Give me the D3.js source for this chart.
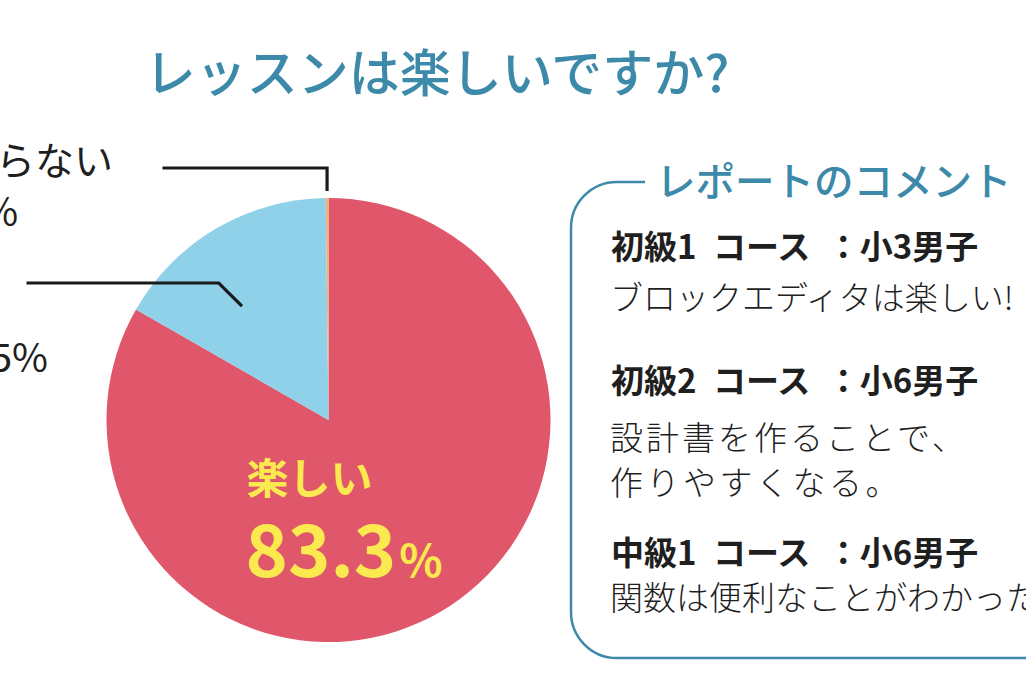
<!DOCTYPE html>
<html>
<head>
<meta charset="utf-8">
<script src="https://cdn.jsdelivr.net/npm/d3@7"></script>
<style>
  html, body { margin: 0; padding: 0; background: #fff; overflow: hidden; }
  svg { display: block; font-family: "Noto Sans CJK JP", "Noto Sans", sans-serif; }
  text { white-space: pre; }
</style>
</head>
<body>
<div id="chart"></div>
<script>
// data
const categories = ["楽しい", "ふつう", "わからない"];
const values = [83.3, 16.5, 0.2];
const valueLabels = ["83.3", "16.5%", "0.2%"];
const sliceColors = ["#e0566b", "#8ed1e9", "#f2b07f"];

const chartTitle = "レッスンは楽しいですか?";
const commentTitle = "レポートのコメント";
const commentHeads = ["初級1\u2002コース\u2002：小3男子", "初級2\u2002コース\u2002：小6男子", "中級1\u2002コース\u2002：小6男子"];
const commentBodies = [["ブロックエディタは楽しい!"], ["設計書を作ることで、", "作りやすくなる。"], ["関数は便利なことがわかった。"]];

const width = 1026, height = 684;
const teal = "#3c89a9", ink = "#1f1f1f";
const cx = 328.5, cy = 420, radius = 222;

const svg = d3.select("#chart")
  .append("svg")
  .attr("width", width)
  .attr("height", height);

// title
svg.append("text")
  .attr("x", 437)
  .attr("y", 92)
  .attr("text-anchor", "middle")
  .attr("fill", teal)
  .style("font-size", "51px")
  .style("font-weight", 500)
  .text(chartTitle);

// pie
const pie = d3.pie().sort(null).value(d => d);
const arcs = pie(values);
const arc = d3.arc().innerRadius(0).outerRadius(radius);

const pieG = svg.append("g").attr("transform", "translate(" + cx + "," + cy + ")");

pieG.selectAll("path.slice")
  .data(arcs)
  .enter()
  .append("path")
  .attr("class", "slice")
  .attr("d", arc)
  .attr("fill", (d, i) => sliceColors[i]);

// label inside the big slice
const inner = pieG.append("g").attr("class", "inner-label");
inner.append("text")
  .attr("x", -82)
  .attr("y", 74)
  .attr("fill", "#fae94f")
  .style("font-size", "42px")
  .style("font-weight", 700)
  .text(categories[0]);
const pct = inner.append("text")
  .attr("x", -83)
  .attr("y", 157)
  .attr("fill", "#fae94f")
  .style("font-weight", 700);
pct.append("tspan").style("font-size", "72px").text(valueLabels[0]);
pct.append("tspan").attr("dx", 3).style("font-size", "45px").text("%");

// outside labels with leader lines
const outside = [
  { i: 1, frac: 0.385, r: 143, elbowY: -137, lineEnd: -302, textX: [5, 48], textY: [-98, -48], anchor: "end" },
  { i: 2, frac: 0.5, r: 229, elbowY: -252, lineEnd: -166, textX: [-82, -72], textY: [-245, -194], anchor: "start" }
];

outside.forEach(function (o) {
  const a = arcs[o.i];
  const ang = a.startAngle + (a.endAngle - a.startAngle) * o.frac;
  const px = Math.sin(ang) * o.r, py = -Math.cos(ang) * o.r;
  let pts;
  if (o.i === 2) {
    pts = [[px, py], [px, o.elbowY], [o.lineEnd, o.elbowY]];
  } else {
    const dy = py - o.elbowY;
    pts = [[px, py], [px - dy, o.elbowY], [o.lineEnd, o.elbowY]];
  }
  pieG.append("path")
    .attr("d", d3.line()(pts))
    .attr("fill", "none")
    .attr("stroke", "#1a1a1a")
    .attr("stroke-width", 3.2);

  const t = svg.append("g");
  [categories[o.i], valueLabels[o.i]].forEach(function (s, k) {
    t.append("text")
      .attr("x", o.textX[k])
      .attr("y", cy + o.textY[k])
      .attr("text-anchor", o.anchor)
      .attr("fill", ink)
      .style("font-size", "39px")
      .text(s);
  });
});

// comment box
const box = svg.append("g").attr("class", "comment-box");
box.append("rect")
  .attr("x", 571)
  .attr("y", 182)
  .attr("width", 600)
  .attr("height", 476)
  .attr("rx", 46)
  .attr("fill", "none")
  .attr("stroke", teal)
  .attr("stroke-width", 2.5);
box.append("rect")
  .attr("x", 645)
  .attr("y", 170)
  .attr("width", 400)
  .attr("height", 25)
  .attr("fill", "#fff");
box.append("text")
  .attr("x", 656)
  .attr("y", 196)
  .attr("fill", teal)
  .style("font-size", "39.5px")
  .style("font-weight", 500)
  .text(commentTitle);

const headY = [259, 393, 565];
const bodyY = [[310], [450, 495], [610]];
const bodySpacing = [[0], [3, 3.5], [0]];

commentHeads.forEach(function (h, i) {
  box.append("text")
    .attr("x", 611)
    .attr("y", headY[i])
    .attr("fill", ink)
    .style("font-size", "33px")
    .style("font-weight", 700)
    .text(h);
  commentBodies[i].forEach(function (b, k) {
    box.append("text")
      .attr("x", 610)
      .attr("y", bodyY[i][k])
      .attr("fill", ink)
      .style("font-size", "33px")
      .style("font-weight", 300)
      .style("letter-spacing", bodySpacing[i][k] + "px")
      .text(b);
  });
});
</script>
</body>
</html>
